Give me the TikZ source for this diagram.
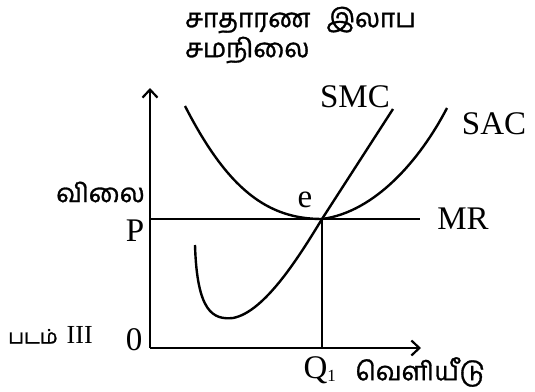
\documentclass[tikz,border=0pt]{standalone}
\usepackage{fontspec}
\setmainfont{Liberation Serif}
\newfontfamily\tam[Script=Tamil,FakeBold=1.2]{Hind Madurai}
\usetikzlibrary{arrows.meta}
\begin{document}
\begin{tikzpicture}[x=1pt,y=-1pt,
  axis/.style={line width=2.5pt,-{Straight Barb[length=8pt,width=15pt,line width=2.2pt]}},
  curve/.style={line width=2.4pt},
  guide/.style={line width=2.4pt},
  lab/.style={font=\fontsize{33}{36}\selectfont,inner sep=0pt},
  tlab/.style={font=\tam\fontsize{26}{28}\selectfont,inner sep=0pt}]
\useasboundingbox (0,0) rectangle (535,391);
\coordinate (O) at (150,348);
\coordinate (ytip) at (150,88);
\coordinate (xtip) at (421,348);
\coordinate (E) at (322,219);
\coordinate (Pl) at (150,219);
\coordinate (MRend) at (420,219);
\coordinate (Qb) at (322,348);
% axes
\draw[axis] (O) -- (ytip);
\draw[axis] (O) -- (xtip);
% guides
\draw[guide] (Pl) -- (MRend);
\draw[guide] (E) -- (Qb);
% SAC
\draw[curve] (185,106) .. controls (228,190) and (268,219) .. (E) .. controls (375,212) and (420,160) .. (447,108);
% SMC
\draw[curve] (195,245) .. controls (197,312) and (213,320) .. (233,318) .. controls (265,312) and (300,255) .. (E) -- (393,109);
% labels
\node[tlab,anchor=west] (t1) at (185,20) {சாதாரண\hspace{16pt}இலாப};
\node[tlab,anchor=west] (t2) at (185,50) {சமநிலை};
\node[lab] (smc) at (355,97) {SMC};
\node[lab] (sac) at (494,124) {SAC};
\node[lab] (mr) at (463,219) {MR};
\node[lab] (e) at (305,200) {e};
\node[tlab,anchor=east] (vilai) at (145,192) {விலை};
\node[lab] (P) at (135,231) {P};
\node[lab] (zero) at (134,340) {0};
\node[lab] (Q) at (320,370) {Q\textsubscript{\fontsize{17}{17}\selectfont 1}};
\node[tlab] (out) at (420,372) {வெளியீடு};
\node[anchor=west,inner sep=0pt] (fig) at (8,335) {{\tam\fontsize{20}{22}\selectfont படம்}\hspace{9pt}{\fontsize{26}{28}\selectfont III}};
\end{tikzpicture}
\end{document}
